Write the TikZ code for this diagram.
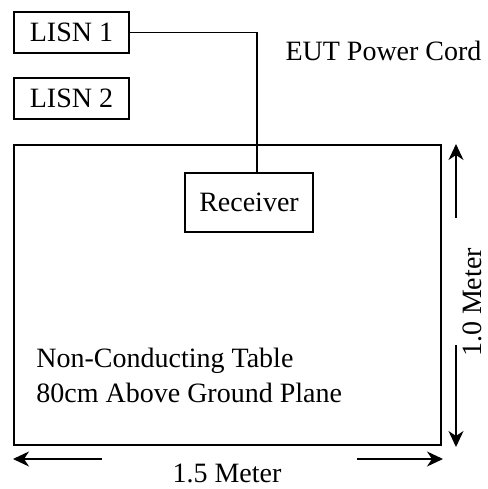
\documentclass[tikz,border=0pt]{standalone}
\usepackage{fontspec}
\setmainfont{Liberation Serif}
\usepackage{tikz}
\usetikzlibrary{arrows.meta,positioning}
\tikzset{
  lisnbox/.style={draw, line width=0.9pt, minimum width=57.5pt, minimum height=20.5pt,
    inner sep=0pt, font=\fontsize{14}{17.5}\selectfont},
  rxbox/.style={draw, line width=0.9pt, minimum width=64pt, minimum height=29.5pt,
    inner sep=0pt, font=\fontsize{14}{17.5}\selectfont},
  tablebox/.style={draw, line width=0.9pt, minimum width=213.5pt, minimum height=150pt, inner sep=0pt},
  lbl/.style={inner sep=0pt, font=\fontsize{14}{17.5}\selectfont},
  cable/.style={line width=0.9pt},
  dimarrow/.style={-{Stealth[length=8pt, width=7.5pt, inset=2.5pt]}, line width=0.8pt}
}
\begin{document}
\begin{tikzpicture}[x=0.5pt, y=-0.5pt]
\useasboundingbox (0,0) rectangle (488,489);

\node[lisnbox] (lisn1) at (71.5,32.5) {LISN 1};
\node[lisnbox, below=11.5pt of lisn1] (lisn2) {LISN 2};
\node[tablebox] (table) at (227.5,295) {};
\node[rxbox] (receiver) at (249,202.5) {Receiver};
\node[lbl, anchor=base] (cord) at (383.5,60) {EUT Power Cord};
\node[lbl, anchor=west, align=left] (tabletext) at (36,375) {Non-Conducting Table\\80cm Above Ground Plane};

\draw[cable] (lisn1.east) -| ([xshift=4pt]receiver.north);

\node[lbl, anchor=base] (widthlbl) at (227,482) {1.5 Meter};
\coordinate (wl) at (102,459);
\coordinate (wlend) at (13,459);
\coordinate (wr) at (357,459);
\coordinate (wrend) at (443,459);
\draw[dimarrow] (wl) -- (wlend);
\draw[dimarrow] (wr) -- (wrend);

\node[lbl, anchor=base, rotate=90] (depthlbl) at (482,302.5) {1.0 Meter};
\coordinate (dt) at (456,218);
\coordinate (dtend) at (456,144);
\coordinate (db) at (456,345);
\coordinate (dbend) at (456,447);
\draw[dimarrow] (dt) -- (dtend);
\draw[dimarrow] (db) -- (dbend);
\end{tikzpicture}
\end{document}
